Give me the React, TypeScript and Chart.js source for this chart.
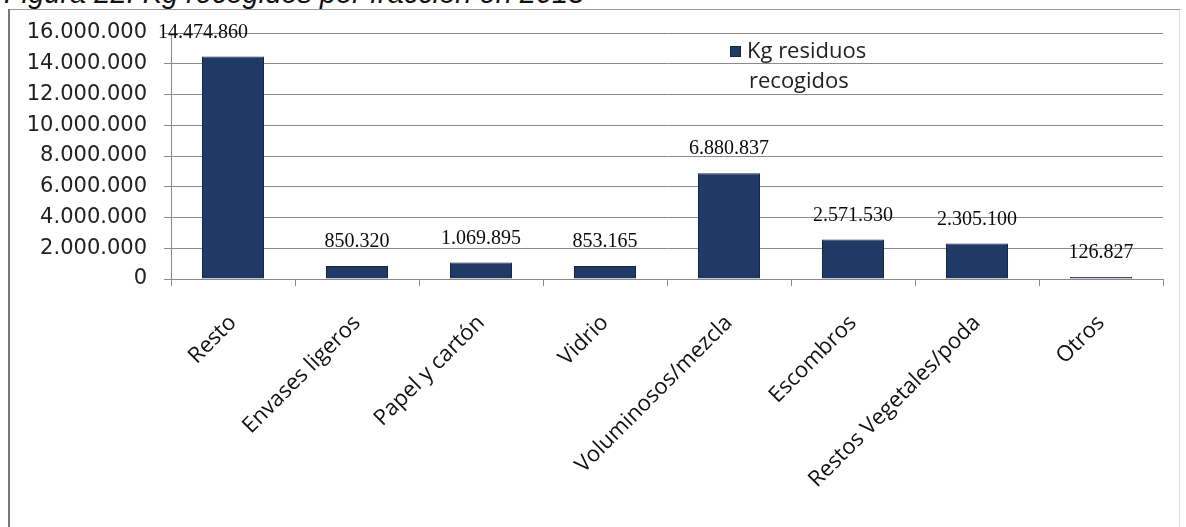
import React, { useEffect, useRef } from "react";
import { Chart, registerables } from "chart.js";

Chart.register(...registerables);

// ---------- data ----------
const categories = [
  "Resto",
  "Envases ligeros",
  "Papel y cartón",
  "Vidrio",
  "Voluminosos/mezcla",
  "Escombros",
  "Restos Vegetales/poda",
  "Otros",
];
const kgValues = [14474860, 850320, 1069895, 853165, 6880837, 2571530, 2305100, 126827];
const legendLines = ["Kg residuos", "recogidos"];
const yMin = 0;
const yMax = 16000000;
const yStep = 2000000;
const titleText = "Figura 22. Kg recogidos por fracción en 2015";

// ---------- styles ----------
const BAR_COLOR = "#203a66";
const BAR_BORDER = "#152543";
const GRID_COLOR = "#8a8a8a";
const LABEL_NUDGE_X: Record<number, number> = { 0: -30 };

const fmt = (v: number) => Math.round(v).toString().replace(/\B(?=(\d{3})+(?!\d))/g, ".");

const dataLabelPlugin = {
  id: "dataLabels",
  afterDatasetsDraw(chart: any) {
    const ctx = chart.ctx;
    const meta = chart.getDatasetMeta(0);
    ctx.save();
    ctx.font = "20px 'Liberation Serif', 'Times New Roman', serif";
    ctx.fillStyle = "#0a0a0a";
    ctx.textAlign = "center";
    ctx.textBaseline = "middle";
    meta.data.forEach((bar: any, i: number) => {
      const v = chart.data.datasets[0].data[i] as number;
      ctx.fillText(fmt(v), bar.x + (LABEL_NUDGE_X[i] || 0), bar.y - 24);
    });
    ctx.restore();
  },
};

const legendPlugin = {
  id: "innerLegend",
  afterDraw(chart: any) {
    const ctx = chart.ctx;
    const { left, top } = chart.chartArea;
    const x0 = left + 559;
    const y0 = top + 13;
    ctx.save();
    ctx.fillStyle = BAR_COLOR;
    ctx.fillRect(x0, y0, 11, 11);
    ctx.strokeStyle = BAR_BORDER;
    ctx.lineWidth = 1;
    ctx.strokeRect(x0 + 0.5, y0 + 0.5, 10, 10);
    ctx.font = "22px 'Open Sans', sans-serif";
    ctx.fillStyle = "#222";
    ctx.textAlign = "left";
    ctx.textBaseline = "alphabetic";
    ctx.fillText(legendLines[0], x0 + 17, y0 + 12);
    ctx.fillText(legendLines[1], x0 + 19, y0 + 42);
    ctx.restore();
  },
};

export default function App() {
  const ref = useRef<HTMLCanvasElement | null>(null);

  useEffect(() => {
    if (!ref.current) return;
    const chart = new Chart(ref.current, {
      type: "bar",
      data: {
        labels: categories,
        datasets: [
          {
            label: legendLines.join(" "),
            data: kgValues,
            backgroundColor: BAR_COLOR,
            borderColor: BAR_BORDER,
            borderWidth: 1,
            barPercentage: 0.5,
            categoryPercentage: 1,
          },
        ],
      },
      options: {
        animation: false,
        responsive: false,
        devicePixelRatio: 1,
        layout: { padding: { top: 33, right: 23, left: 0, bottom: 0 } },
        plugins: {
          legend: { display: false },
          tooltip: { enabled: false },
          title: { display: false },
        },
        scales: {
          x: {
            offset: true,
            grid: {
              offset: true,
              drawOnChartArea: false,
              drawTicks: true,
              tickLength: 7,
              color: GRID_COLOR,
            },
            border: { display: true, color: GRID_COLOR },
            ticks: {
              autoSkip: false,
              maxRotation: 45,
              minRotation: 45,
              padding: 24,
              color: "#111",
              font: { family: "'Open Sans', sans-serif", size: 22 },
            },
            afterFit: (scale: any) => {
              scale.height = 248;
            },
          },
          y: {
            min: yMin,
            max: yMax,
            grid: { color: GRID_COLOR, tickLength: 7, drawTicks: true },
            border: { display: true, color: GRID_COLOR },
            ticks: {
              stepSize: yStep,
              padding: 17,
              color: "#222",
              font: { family: "'DejaVu Sans', sans-serif", size: 21 },
              callback: (v: any) => fmt(Number(v)),
            },
            afterFit: (scale: any) => {
              scale.width = 171;
            },
          },
        },
      },
      plugins: [dataLabelPlugin, legendPlugin],
    });
    return () => chart.destroy();
  }, []);

  return (
    <div
      style={{
        position: "fixed",
        left: 0,
        top: 0,
        width: 1186,
        height: 527,
        overflow: "hidden",
        background: "#fff",
      }}
    >
      <div
        style={{
          position: "absolute",
          left: 4,
          top: -21,
          font: "italic 29px 'Liberation Sans', Arial, sans-serif",
          lineHeight: "29px",
          color: "#111",
          whiteSpace: "nowrap",
        }}
      >
        {titleText}
      </div>
      <div style={{ position: "absolute", left: 8, top: 9, width: 1172, height: 1, background: "#999" }} />
      <div style={{ position: "absolute", left: 8, top: 9, width: 2, height: 518, background: "#777" }} />
      <div style={{ position: "absolute", left: 1179, top: 10, width: 1, height: 517, background: "#ddd" }} />
      <canvas
        ref={ref}
        width={1186}
        height={527}
        style={{ position: "absolute", left: 0, top: 0, width: 1186, height: 527 }}
      />
    </div>
  );
}
